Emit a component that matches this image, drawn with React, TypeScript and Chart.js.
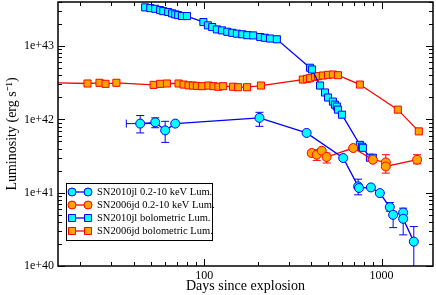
import { useEffect, useRef } from "react";
import { Chart, registerables } from "chart.js";

Chart.register(...registerables);

// ---- Data ----
// SN2010jl 0.2-10 keV X-ray luminosity
const jlXrayDays = [43.6, 53, 60.3, 68.7, 205, 378, 608, 738, 746, 871, 978, 1113, 1162, 1324, 1324, 1520];
const jlXrayLum = [8.77e41, 9.12e41, 7.09e41, 8.77e41, 1.05e42, 6.54e41, 2.97e41, 1.22e41, 1.16e41, 1.18e41, 9.88e40, 6.36e40, 4.99e40, 5.36e40, 4.4e40, 2.15e40];
const jlXrayHi = [1.13e42, 1.05e42, 9.42e41, null, 1.25e42, null, null, 1.53e41, null, null, null, 7.35e40, 5.5e40, 6.15e40, 4.8e40, 3.45e40];
const jlXrayLo = [6.54e41, 7.7e41, 4.86e41, null, 8.05e41, null, null, 9.36e40, null, null, null, 5.6e40, 3.34e40, 5.0e40, 2.66e40, 1e39];
const jlXrayDayLo = [36.4, null, null, null, null, null, null, null, null, null, null, null, null, null, null, null];
const jlXrayDayHi = [52, null, null, null, null, null, null, null, null, null, null, null, null, null, null, null];

// SN2006jd 0.2-10 keV X-ray luminosity
const jdXrayDays = [404, 431, 460, 490, 692, 893, 1057, 1057, 1586];
const jdXrayLum = [3.48e41, 3.3e41, 3.74e41, 3.07e41, 4.07e41, 2.82e41, 2.59e41, 2.28e41, 2.82e41];
const jdXrayHi = [3.75e41, 3.85e41, 3.95e41, 3.48e41, 4.3e41, null, 3.3e41, null, 3.3e41];
const jdXrayLo = [3.2e41, 2.76e41, 3.5e41, 2.54e41, 3.85e41, null, 1.85e41, null, 2.48e41];

// SN2010jl bolometric luminosity
const jlBolDays = [46.5, 49.7, 53, 56.5, 58.8, 62.7, 66, 68.7, 71.4, 75, 80, 99, 105, 111, 118, 126, 135, 144, 153, 164, 175, 189, 207, 220, 235, 257, 395, 405, 450, 480, 499, 532, 546, 560, 568, 598, 755, 775, 785, 860, 893];
const jlBolLum = [3.38e43, 3.3e43, 3.23e43, 3.1e43, 3.0e43, 2.92e43, 2.8e43, 2.71e43, 2.65e43, 2.57e43, 2.57e43, 2.13e43, 1.92e43, 1.82e43, 1.69e43, 1.64e43, 1.57e43, 1.52e43, 1.48e43, 1.45e43, 1.41e43, 1.4e43, 1.33e43, 1.3e43, 1.27e43, 1.24e43, 5.07e42, 4.8e42, 2.9e42, 2.33e42, 1.99e42, 1.75e42, 1.59e42, 1.5e42, 1.36e42, 1.16e42, 4.5e41, 4.25e41, 4.1e41, 3.0e41, 3.0e41];

// SN2006jd bolometric luminosity
const jdBolDays = [10, 22, 25.7, 27.8, 32, 51.9, 56.5, 61.7, 71.7, 76.5, 81.7, 86.4, 91, 97.1, 105.7, 112.8, 120.3, 128, 145.6, 155.4, 174.5, 209, 360, 380, 395, 422, 438, 467, 499, 532, 568, 755, 1235, 1622];
const jdBolLum = [3.22e42, 3.09e42, 3.16e42, 3.06e42, 3.16e42, 2.96e42, 3.06e42, 3.09e42, 3.09e42, 2.99e42, 2.92e42, 2.9e42, 2.87e42, 2.84e42, 2.9e42, 2.84e42, 2.79e42, 2.84e42, 2.79e42, 2.75e42, 2.75e42, 2.9e42, 3.5e42, 3.58e42, 3.65e42, 3.81e42, 3.89e42, 3.97e42, 4.06e42, 4.1e42, 4.01e42, 2.99e42, 1.36e42, 6.87e41];

const labels = [
  "SN2010jl 0.2-10 keV Lum.",
  "SN2006jd 0.2-10 keV Lum.",
  "SN2010jl bolometric Lum.",
  "SN2006jd bolometric Lum.",
];

const xMin = 15;
const xMax = 1950;
const yMin = 1e40;
const yMax = 4e43;

const FONT = "'Liberation Serif', 'Times New Roman', serif";

const zip = (xs: number[], ys: number[]) => xs.map((x, i) => ({ x, y: ys[i] }));

const errorBars = [
  { days: jlXrayDays, lum: jlXrayLum, hi: jlXrayHi, lo: jlXrayLo, dlo: jlXrayDayLo, dhi: jlXrayDayHi, color: "#0000ff" },
  { days: jdXrayDays, lum: jdXrayLum, hi: jdXrayHi, lo: jdXrayLo, dlo: null, dhi: null, color: "#ff0000" },
];

const errorBarPlugin = {
  id: "errorBars",
  beforeDatasetsDraw(chart: any) {
    const { ctx, chartArea, scales } = chart;
    const xs = scales.x, ys = scales.y;
    ctx.save();
    ctx.beginPath();
    ctx.rect(chartArea.left, chartArea.top, chartArea.right - chartArea.left, chartArea.bottom - chartArea.top);
    ctx.clip();
    ctx.lineWidth = 1;
    const cap = 4;
    for (const eb of errorBars) {
      ctx.strokeStyle = eb.color;
      eb.days.forEach((d: number, i: number) => {
        const px = xs.getPixelForValue(d);
        const py = ys.getPixelForValue(eb.lum[i]);
        const hi = eb.hi[i], lo = eb.lo[i];
        if (hi != null && lo != null) {
          const ph = ys.getPixelForValue(hi);
          const pl = ys.getPixelForValue(lo);
          ctx.beginPath();
          ctx.moveTo(px, ph); ctx.lineTo(px, pl);
          ctx.moveTo(px - cap, ph); ctx.lineTo(px + cap, ph);
          ctx.moveTo(px - cap, pl); ctx.lineTo(px + cap, pl);
          ctx.stroke();
        }
        if (eb.dlo && eb.dhi && eb.dlo[i] != null && eb.dhi[i] != null) {
          const pa = xs.getPixelForValue(eb.dlo[i]);
          const pb = xs.getPixelForValue(eb.dhi[i]);
          ctx.beginPath();
          ctx.moveTo(pa, py); ctx.lineTo(pb, py);
          ctx.moveTo(pa, py - cap); ctx.lineTo(pa, py + cap);
          ctx.moveTo(pb, py - cap); ctx.lineTo(pb, py + cap);
          ctx.stroke();
        }
      });
    }
    ctx.restore();
  },
};

const frameTicksPlugin = {
  id: "frameTicks",
  afterDatasetsDraw(chart: any) {
    const { ctx, chartArea, scales } = chart;
    const { left, right, top, bottom } = chartArea;
    const xs = scales.x, ys = scales.y;
    ctx.save();
    ctx.strokeStyle = "#000";
    ctx.lineWidth = 1.5;
    ctx.strokeRect(left, top, right - left, bottom - top);
    ctx.lineWidth = 1;
    const major = 7, minor = 4;
    ctx.beginPath();
    for (let e = 1; e <= 3; e++) {
      for (let m = 1; m <= 9; m++) {
        const v = m * Math.pow(10, e);
        if (v < xMin || v > xMax) continue;
        const p = Math.round(xs.getPixelForValue(v)) + 0.5;
        const len = m === 1 ? major : minor;
        ctx.moveTo(p, bottom); ctx.lineTo(p, bottom - len);
        ctx.moveTo(p, top); ctx.lineTo(p, top + len);
      }
    }
    for (let e = 40; e <= 43; e++) {
      for (let m = 1; m <= 9; m++) {
        const v = m * Math.pow(10, e);
        if (v < yMin || v > yMax * 1.0001) continue;
        const p = Math.round(ys.getPixelForValue(v)) + 0.5;
        const len = m === 1 ? major : minor;
        ctx.moveTo(left, p); ctx.lineTo(left + len, p);
        ctx.moveTo(right, p); ctx.lineTo(right - len, p);
      }
    }
    ctx.stroke();
    ctx.restore();
  },
};

const legendPlugin = {
  id: "customLegend",
  afterDraw(chart: any) {
    const { ctx, chartArea } = chart;
    const x0 = chartArea.left + 8;
    const y0 = chartArea.bottom - 83;
    const w = 146, h = 57;
    ctx.save();
    ctx.fillStyle = "#fff";
    ctx.fillRect(x0, y0, w, h);
    ctx.strokeStyle = "#000";
    ctx.lineWidth = 1;
    ctx.strokeRect(x0 + 0.5, y0 + 0.5, w, h);
    ctx.font = `10.5px ${FONT}`;
    ctx.textBaseline = "middle";
    ctx.textAlign = "left";
    const rowH = 13;
    chart.data.datasets.forEach((ds: any, i: number) => {
      const cy = y0 + 9 + i * rowH;
      const sx0 = x0 + 6, sx1 = x0 + 22;
      ctx.strokeStyle = ds.borderColor;
      ctx.lineWidth = 1.3;
      ctx.beginPath();
      ctx.moveTo(sx0, cy); ctx.lineTo(sx1, cy);
      ctx.stroke();
      for (const sx of [sx0, sx1]) {
        ctx.fillStyle = ds.pointBackgroundColor;
        ctx.strokeStyle = ds.pointBorderColor;
        ctx.lineWidth = 1;
        ctx.beginPath();
        if (ds.pointStyle === "rect") {
          ctx.rect(sx - 3.5, cy - 3.5, 7, 7);
        } else {
          ctx.arc(sx, cy, 4, 0, Math.PI * 2);
        }
        ctx.fill();
        ctx.stroke();
      }
      ctx.fillStyle = "#000";
      ctx.fillText(ds.label, x0 + 31, cy + 0.5);
    });
    ctx.restore();
  },
};

function isDecade(v: number) {
  const e = Math.log10(v);
  return Math.abs(e - Math.round(e)) < 1e-9;
}

export default function App() {
  const ref = useRef<HTMLCanvasElement | null>(null);
  useEffect(() => {
    if (!ref.current) return;
    const chart = new Chart(ref.current, {
      type: "scatter",
      data: {
        datasets: [
          {
            label: labels[0],
            data: zip(jlXrayDays, jlXrayLum),
            showLine: true,
            borderColor: "#0000ff",
            borderWidth: 1.3,
            pointStyle: "circle",
            pointRadius: 4.5,
            pointBackgroundColor: "#00ffff",
            pointBorderColor: "#0000ff",
            pointBorderWidth: 1,
          },
          {
            label: labels[1],
            data: zip(jdXrayDays, jdXrayLum),
            showLine: true,
            borderColor: "#ff0000",
            borderWidth: 1.3,
            pointStyle: "circle",
            pointRadius: 4.5,
            pointBackgroundColor: "#ffa500",
            pointBorderColor: "#ff0000",
            pointBorderWidth: 1,
          },
          {
            label: labels[2],
            data: zip(jlBolDays, jlBolLum),
            showLine: true,
            borderColor: "#0000ff",
            borderWidth: 1.3,
            pointStyle: "rect",
            pointRadius: 5,
            pointBackgroundColor: "#00ffff",
            pointBorderColor: "#0000ff",
            pointBorderWidth: 1,
          },
          {
            label: labels[3],
            data: zip(jdBolDays, jdBolLum),
            showLine: true,
            borderColor: "#ff0000",
            borderWidth: 1.3,
            pointStyle: "rect",
            pointRadius: 5,
            pointBackgroundColor: "#ffa500",
            pointBorderColor: "#ff0000",
            pointBorderWidth: 1,
          },
        ],
      },
      options: {
        responsive: false,
        animation: false,
        layout: { autoPadding: false, padding: { left: 0, right: 3, top: 2, bottom: 0 } },
        plugins: { legend: { display: false }, tooltip: { enabled: false } },
        scales: {
          x: {
            type: "logarithmic",
            min: xMin,
            max: xMax,
            grid: { display: false, drawTicks: false },
            border: { display: false },
            afterFit: (s: any) => { s.height = 29; s.paddingLeft = 0; s.paddingRight = 0; },
            ticks: {
              autoSkip: false,
              maxRotation: 0,
              padding: 3,
              color: "#000",
              font: { family: FONT, size: 12 },
              callback: (v: any) => (isDecade(Number(v)) && Number(v) >= 100 ? String(Number(v)) : ""),
            },
            title: {
              display: true,
              text: "Days since explosion",
              color: "#000",
              font: { family: FONT, size: 14 },
              padding: { top: 0, bottom: 0 },
            },
          },
          y: {
            type: "logarithmic",
            min: yMin,
            max: yMax,
            grid: { display: false, drawTicks: false },
            border: { display: false },
            afterFit: (s: any) => { s.width = 58; s.paddingTop = 0; s.paddingBottom = 0; },
            ticks: {
              autoSkip: false,
              padding: 4,
              color: "#000",
              font: { family: FONT, size: 12 },
              callback: (v: any) => (isDecade(Number(v)) ? "1e+" + Math.round(Math.log10(Number(v))) : ""),
            },
            title: {
              display: true,
              text: "Luminosity (erg s\u207B\u00B9)",
              color: "#000",
              font: { family: FONT, size: 14 },
              padding: { top: 4, bottom: 0 },
            },
          },
        },
      },
      plugins: [errorBarPlugin, frameTicksPlugin, legendPlugin],
    } as any);
    return () => chart.destroy();
  }, []);
  return (
    <div style={{ position: "fixed", left: 0, top: 0, width: 436, height: 295, background: "#fff" }}>
      <canvas ref={ref} width={436} height={295} style={{ display: "block" }} />
    </div>
  );
}
